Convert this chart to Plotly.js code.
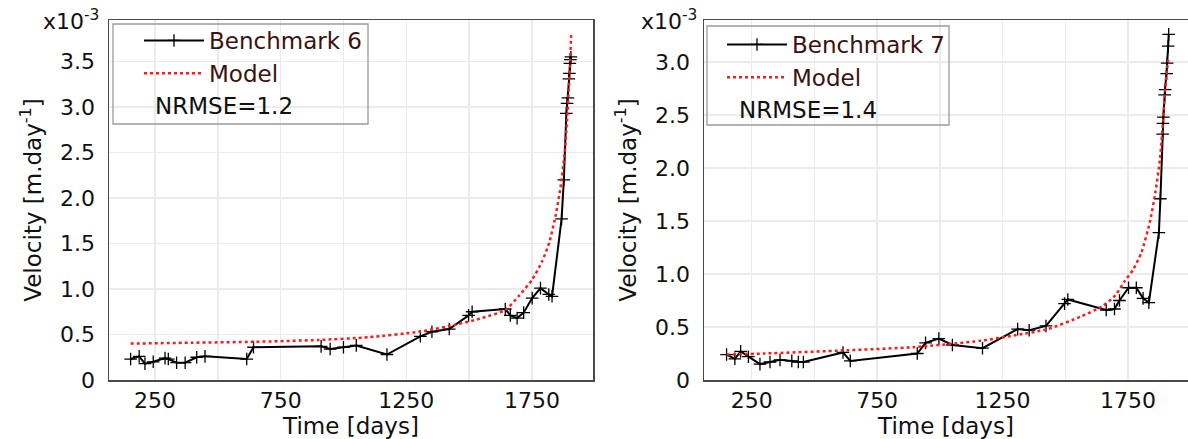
<!DOCTYPE html>
<html>
<head>
<meta charset="utf-8">
<script src="https://cdn.plot.ly/plotly-3.0.1.min.js"></script>
<style>html,body{margin:0;padding:0;background:#fff;}#chart{width:1188px;height:439px;}</style>
</head>
<body>
<div id="chart"></div>
<script>
// Velocity values in units of 1e-3 m/day (axis multiplier x10^-3)
const days6 = [153,187,210,243,290,303,336,370,416,449,615,642,911,947,1000,1051,1173,1306,1352,1421,1498,1512,1644,1664,1691,1717,1751,1784,1817,1830,1868,1877,1887,1890,1893,1897,1899,1901,1903,1905];
const vel6  = [0.23,0.26,0.18,0.20,0.24,0.23,0.19,0.19,0.25,0.26,0.23,0.36,0.37,0.34,0.36,0.38,0.28,0.48,0.53,0.56,0.71,0.75,0.78,0.71,0.68,0.74,0.90,1.01,0.94,0.92,1.77,2.20,2.93,3.04,3.10,3.31,3.37,3.48,3.52,3.55];
const modelDays6 = [153,400,650,900,1100,1300,1450,1550,1644,1700,1750,1790,1820,1845,1864,1880,1890,1897,1902,1906];
const modelVel6  = [0.40,0.41,0.42,0.44,0.47,0.53,0.61,0.68,0.77,0.93,1.10,1.30,1.52,1.82,2.12,2.49,2.86,3.22,3.50,3.79];

const days7 = [150,183,206,237,283,323,363,410,436,456,614,643,910,943,996,1050,1170,1310,1356,1423,1497,1510,1663,1696,1716,1752,1783,1810,1833,1873,1879,1888,1889,1891,1896,1898,1904,1906,1910,1912];
const vel7  = [0.24,0.20,0.27,0.22,0.15,0.17,0.19,0.18,0.17,0.17,0.26,0.18,0.25,0.35,0.39,0.33,0.30,0.48,0.47,0.51,0.72,0.76,0.66,0.67,0.75,0.87,0.87,0.77,0.73,1.39,1.71,2.32,2.42,2.48,2.69,2.74,2.89,2.99,3.15,3.26];
const modelDays7 = [150,300,630,895,1163,1295,1430,1563,1650,1700,1736,1770,1803,1837,1859,1877,1890,1899,1910];
const modelVel7  = [0.24,0.25,0.28,0.31,0.37,0.42,0.48,0.60,0.70,0.80,0.93,1.04,1.20,1.49,1.77,2.08,2.46,2.78,3.02];

const xTickVals = [250,750,1250,1750];
const xTickText = ["250","750","1250","1750"];
const yTickVals6 = [0,0.5,1.0,1.5,2.0,2.5,3.0,3.5];
const yTickText6 = ["0","0.5","1.0","1.5","2.0","2.5","3.0","3.5"];
const yTickVals7 = [0,0.5,1.0,1.5,2.0,2.5,3.0];
const yTickText7 = ["0","0.5","1.0","1.5","2.0","2.5","3.0"];
const names = ["Benchmark 6","Benchmark 7","Model"];
const nrmse = ["NRMSE=1.2","NRMSE=1.4"];

const W = 1188, H = 439;
const px = v => v / W;
const py = v => 1 - v / H;
const FONT = 'DejaVu Sans, Verdana, sans-serif';

function bench(x, y, name, xa, ya, lg) {
  return {x, y, name, type:'scatter', mode:'lines+markers', xaxis:xa, yaxis:ya, legend:lg,
    line:{color:'#000', width:2},
    marker:{symbol:'cross-thin', size:9, color:'#000', line:{color:'#000', width:1.3}}};
}
function model(x, y, name, xa, ya, lg) {
  return {x, y, name, type:'scatter', mode:'lines', xaxis:xa, yaxis:ya, legend:lg,
    line:{color:'#ff1a1a', width:2.5, dash:'dot', shape:'spline', smoothing:0.6}};
}
const traces = [
  bench(days6, vel6, names[0], 'x', 'y', 'legend'),
  model(modelDays6, modelVel6, names[2], 'x', 'y', 'legend'),
  bench(days7, vel7, names[1], 'x2', 'y2', 'legend2'),
  model(modelDays7, modelVel7, names[2], 'x2', 'y2', 'legend2')
];

const gridC = '#ebebeb', lineC = '#4a4a4a';
function xax(domain, range, anchor) {
  return {domain, range, anchor, tickmode:'array', tickvals:xTickVals, ticktext:xTickText,
    showgrid:true, gridcolor:gridC, gridwidth:1.5, zeroline:false,
    minor:{tick0:250, dtick:250, showgrid:true, gridcolor:gridC, gridwidth:1.5, ticks:''},
    showline:true, linecolor:lineC, linewidth:1.5, mirror:true,
    ticks:'', ticklen:0,
    tickfont:{family:FONT, size:22, color:'#111'},
    title:{text:'Time [days]', font:{family:FONT, size:23, color:'#111'}, standoff:0}};
}
function yax(domain, range, anchor, tv, tt, mirror) {
  return {domain, range, anchor, tickmode:'array', tickvals:tv, ticktext:tt,
    showgrid:true, gridcolor:gridC, gridwidth:1.5, zeroline:false,
    showline:true, linecolor:lineC, linewidth:1.5, mirror,
    ticks:'outside', ticklen:8, tickcolor:'rgba(0,0,0,0)',
    tickfont:{family:FONT, size:22, color:'#111'},
    title:{text:'Velocity [m.day<sup>-1</sup>]', font:{family:FONT, size:23, color:'#111'}, standoff:12}};
}
const yDom = [py(380), py(20)];
const legendFont = {family:FONT, size:23, color:'#3a1212'};

const layout = {
  width:W, height:H, margin:{l:0,r:0,t:0,b:0},
  paper_bgcolor:'#fff', plot_bgcolor:'#fff',
  font:{family:FONT},
  showlegend:true,
  xaxis: xax([px(109), px(593)], [67,1993], 'y'),
  yaxis: yax(yDom, [0,3.956], 'x', yTickVals6, yTickText6, true),
  xaxis2: xax([px(704), 1], [60,1989], 'y2'),
  yaxis2: yax(yDom, [0,3.396], 'x2', yTickVals7, yTickText7, false),
  legend: {x:px(139), y:py(19), xanchor:'left', yanchor:'top', bgcolor:'rgba(0,0,0,0)', borderwidth:0, font:legendFont, itemwidth:60, tracegroupgap:0},
  legend2: {x:px(722), y:py(23), xanchor:'left', yanchor:'top', bgcolor:'rgba(0,0,0,0)', borderwidth:0, font:legendFont, itemwidth:60, tracegroupgap:0},
  shapes: [
    {type:'rect', xref:'paper', yref:'paper', x0:px(113), x1:px(368), y0:py(124), y1:py(24), line:{color:'#9a9a9a', width:1.3}, fillcolor:'rgba(255,255,255,0)', layer:'above'},
    {type:'rect', xref:'paper', yref:'paper', x0:px(707), x1:px(949), y0:py(125), y1:py(26), line:{color:'#9a9a9a', width:1.3}, fillcolor:'rgba(255,255,255,0)', layer:'above'}
  ],
  annotations: [
    {xref:'paper', yref:'paper', x:px(224), y:py(106), text:nrmse[0], showarrow:false, xanchor:'center', yanchor:'middle', font:{family:FONT, size:23, color:'#111'}},
    {xref:'paper', yref:'paper', x:px(808), y:py(110), text:nrmse[1], showarrow:false, xanchor:'center', yanchor:'middle', font:{family:FONT, size:23, color:'#111'}},
    {xref:'paper', yref:'paper', x:px(101), y:py(20), text:'x10<sup>-3</sup>', showarrow:false, xanchor:'right', yanchor:'middle', font:{family:FONT, size:22, color:'#111'}},
    {xref:'paper', yref:'paper', x:px(699), y:py(20), text:'x10<sup>-3</sup>', showarrow:false, xanchor:'right', yanchor:'middle', font:{family:FONT, size:22, color:'#111'}}
  ]
};

Plotly.newPlot('chart', traces, layout, {staticPlot:true, displayModeBar:false});
</script>
</body>
</html>
